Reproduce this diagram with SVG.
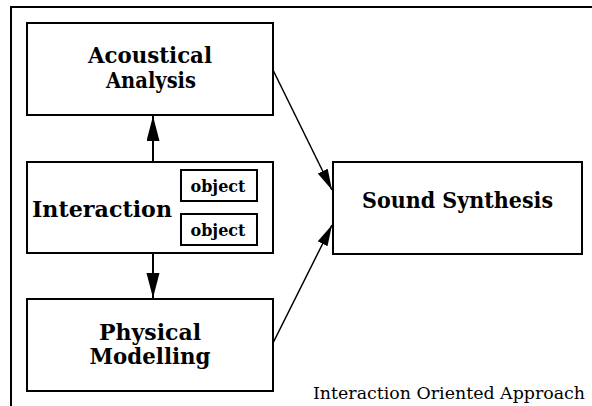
<svg xmlns="http://www.w3.org/2000/svg" width="592" height="406" viewBox="0 0 592 406">
<defs>
<style>
.box{fill:#fff;stroke:#000;stroke-width:2}
.t{font-family:"DejaVu Serif","Liberation Serif",serif;font-weight:bold;fill:#000;text-anchor:middle}
.big{font-size:22px}
.one{font-size:23px}
.obj{font-size:17px}
.cap{font-family:"DejaVu Serif","Liberation Serif",serif;font-size:16.5px;fill:#000}
.ln{stroke:#000;fill:none}
</style>
<marker id="ah" markerUnits="userSpaceOnUse" markerWidth="26" markerHeight="14" refX="25" refY="6.5" orient="auto"><path d="M0,0 L25,6.5 L0,13 z" fill="#000"/></marker>
<marker id="ad" markerUnits="userSpaceOnUse" markerWidth="22" markerHeight="12" refX="21" refY="5.5" orient="auto"><path d="M0,0 L21,5.5 L0,11 z" fill="#000"/></marker>
</defs>
<rect width="592" height="406" fill="#fff"/>
<path class="ln" d="M11,406 V7 H593" stroke-width="2"/>
<g id="acoustical">
<rect class="box" x="27" y="23" width="246" height="92"/>
<text class="t big" x="150" y="63" textLength="124" lengthAdjust="spacingAndGlyphs">Acoustical</text>
<text class="t big" x="151" y="88" textLength="90" lengthAdjust="spacingAndGlyphs">Analysis</text>
</g>
<g id="interaction">
<rect class="box" x="27" y="162" width="246" height="91"/>
<text class="t one" x="102" y="217" textLength="140" lengthAdjust="spacingAndGlyphs">Interaction</text>
<g id="object1">
<rect class="box" x="181" y="170" width="76" height="31"/>
<text class="t obj" x="218" y="192" textLength="55" lengthAdjust="spacingAndGlyphs">object</text>
</g>
<g id="object2">
<rect class="box" x="181" y="214" width="76" height="31"/>
<text class="t obj" x="218" y="236" textLength="55" lengthAdjust="spacingAndGlyphs">object</text>
</g>
</g>
<g id="physical">
<rect class="box" x="27" y="299" width="246" height="92"/>
<text class="t big" x="150" y="340" textLength="102" lengthAdjust="spacingAndGlyphs">Physical</text>
<text class="t big" x="150" y="364" textLength="121" lengthAdjust="spacingAndGlyphs">Modelling</text>
</g>
<g id="sound">
<rect class="box" x="333" y="162" width="249" height="92"/>
<text class="t one" x="457.5" y="208" textLength="191" lengthAdjust="spacingAndGlyphs">Sound Synthesis</text>
</g>
<g id="connectors">
<line class="ln" x1="153" y1="162" x2="153" y2="116" stroke-width="2" marker-end="url(#ah)"/>
<line class="ln" x1="153" y1="253" x2="153" y2="298" stroke-width="2" marker-end="url(#ah)"/>
<line class="ln" x1="273" y1="70" x2="332" y2="190" stroke-width="1.5" marker-end="url(#ad)"/>
<line class="ln" x1="273" y1="343" x2="332" y2="225" stroke-width="1.5" marker-end="url(#ad)"/>
</g>
<text class="cap" x="313" y="399" textLength="272" lengthAdjust="spacingAndGlyphs">Interaction Oriented Approach</text>
</svg>
